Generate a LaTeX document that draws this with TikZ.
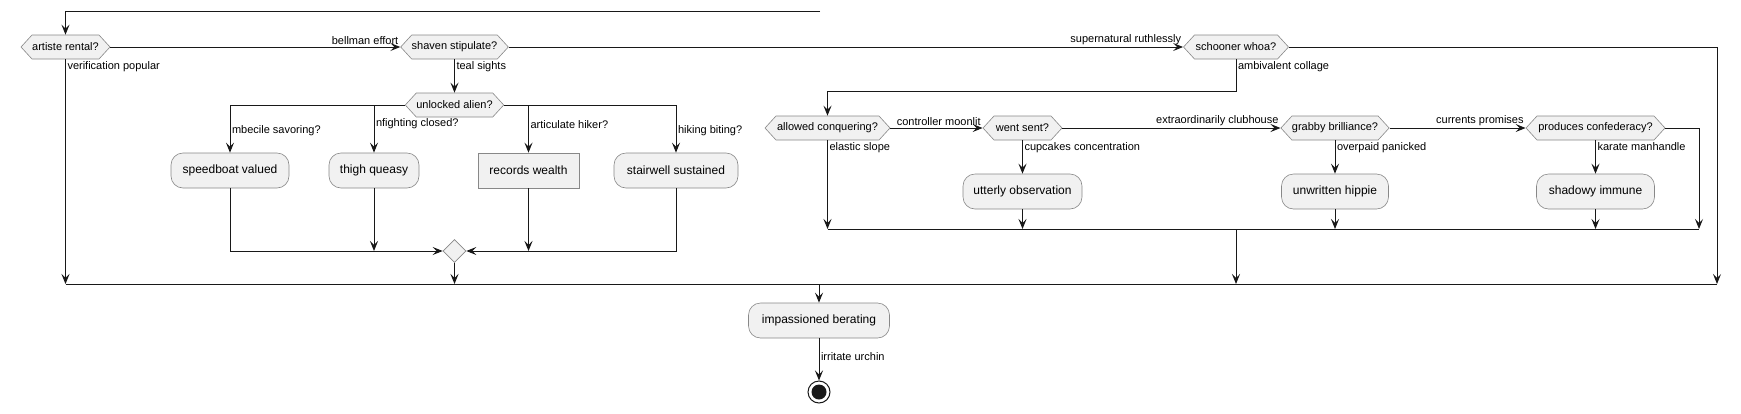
\documentclass[tikz,border=0pt]{standalone}
\usepackage{fontspec}
\setmainfont{Liberation Sans}
\usetikzlibrary{arrows.meta,shapes.symbols,shapes.geometric}
\definecolor{nodefill}{HTML}{F1F1F1}
\definecolor{nodeline}{HTML}{888888}
\definecolor{edgecol}{HTML}{181818}
\begin{document}
\begin{tikzpicture}[x=1pt,y=-1pt,
  hexa/.style={shape=signal, signal to=west and east, signal pointer angle=95, draw=nodeline, fill=nodefill, line width=0.6pt, minimum height=24pt, inner xsep=0pt, inner ysep=0pt, font=\fontsize{11}{13}\selectfont},
  act/.style={rectangle, rounded corners=12pt, draw=nodeline, fill=nodefill, line width=0.6pt, minimum height=35pt, inner sep=0pt, font=\fontsize{12}{14}\selectfont},
  plainbox/.style={rectangle, draw=nodeline, fill=nodefill, line width=0.6pt, minimum height=35pt, inner sep=0pt, font=\fontsize{12}{14}\selectfont},
  lbl/.style={font=\fontsize{11}{13}\selectfont, inner sep=1.5pt},
  conn/.style={draw=edgecol, line width=1pt},
  arr/.style={conn, -{Stealth[length=10pt,width=8pt,inset=4pt]}},
]
\fill[white] (0,0) rectangle (1741,413);
\useasboundingbox (0,0) rectangle (1741,413);

% decision nodes
\node[hexa, minimum width=89pt]  (artiste)  at (65.5,47)   {artiste rental?};
\node[hexa, minimum width=107pt] (shaven)   at (454.5,47)  {shaven stipulate?};
\node[hexa, minimum width=105pt] (schooner) at (1236,47)   {schooner whoa?};
\node[hexa, minimum width=97pt]  (unlocked) at (454.5,105) {unlocked alien?};
\node[hexa, minimum width=125pt] (allowed)  at (827.5,128) {allowed conquering?};
\node[hexa, minimum width=79pt]  (went)     at (1022.5,128) {went sent?};
\node[hexa, minimum width=108pt] (grabby)   at (1335,128)  {grabby brilliance?};
\node[hexa, minimum width=139pt] (produces) at (1595.5,128) {produces confederacy?};

% activity nodes
\node[act, minimum width=118pt] (speedboat) at (230,170.5) {speedboat valued};
\node[act, minimum width=90pt]  (thigh)     at (374,170.5) {thigh queasy};
\node[plainbox, minimum width=101pt] (records) at (528.5,170.5) {records wealth};
\node[act, minimum width=124pt] (stairwell) at (676,170.5) {stairwell sustained};
\node[act, minimum width=119pt] (utterly)   at (1022.5,191.5) {utterly observation};
\node[act, minimum width=107pt] (unwritten) at (1335,191.5) {unwritten hippie};
\node[act, minimum width=118pt] (shadowy)   at (1595.5,191.5) {shadowy immune};
\node[act, minimum width=141pt] (impassioned) at (819,320.5) {impassioned berating};

\node[shape=diamond, draw=nodeline, fill=nodefill, line width=0.6pt, minimum width=23pt, minimum height=23pt, inner sep=0pt] (merge) at (454.5,251) {};
\node[circle, draw=edgecol, line width=1pt, minimum size=22pt, inner sep=0pt,
  path picture={\fill[edgecol] (path picture bounding box.center) circle (7.5pt);}] (stop) at (819,392) {};

% coordinates for bars
\coordinate (loopR) at (820,11);
\coordinate (bL) at (65.5,284);
\coordinate (bR) at (1717,284);
\coordinate (mL) at (827.5,229);
\coordinate (mR) at (1699,229);
\coordinate (mJ) at (1236,229);

\draw[conn] (bL) -- (bR);
\draw[conn] (mL) -- (mR);

% top loop
\draw[arr] (loopR) -| (artiste.north);

% first row
\draw[arr] (artiste.east) -- node[lbl, pos=1, anchor=south east]{bellman effort} (shaven.west);
\draw[arr] (shaven.east) -- node[lbl, pos=1, anchor=south east]{supernatural ruthlessly} (schooner.west);
\draw[arr] (schooner.east) -| (bR);
\draw[arr] (artiste.south) -- node[lbl, pos=0, anchor=north west]{verification popular} (artiste.south |- bL);

% left branch
\draw[arr] (shaven.south) -- node[lbl, pos=0, anchor=north west]{teal sights} (unlocked.north);
\draw[arr] (unlocked.west) -| node[lbl, pos=0.77, anchor=west]{mbecile savoring?} (speedboat.north);
\draw[arr] (unlocked.west) -| node[lbl, pos=0.70, anchor=west]{nfighting closed?} (thigh.north);
\draw[arr] (unlocked.east) -| node[lbl, pos=0.70, anchor=west]{articulate hiker?} (records.north);
\draw[arr] (unlocked.east) -| node[lbl, pos=0.77, anchor=west]{hiking biting?} (stairwell.north);

\draw[arr] (speedboat.south) |- (merge.west);
\draw[arr] (thigh.south) -- (thigh.south |- merge.center);
\draw[arr] (records.south) -- (records.south |- merge.center);
\draw[arr] (stairwell.south) |- (merge.east);
\draw[arr] (merge.south) -- (merge.south |- bL);

% right branch
\draw[arr] (schooner.south) -- node[lbl, pos=0, anchor=north west]{ambivalent collage} ++(0,32) -| (allowed.north);
\draw[arr] (allowed.east) -- node[lbl, pos=1, anchor=south east]{controller moonlit} (went.west);
\draw[arr] (went.east) -- node[lbl, pos=1, anchor=south east]{extraordinarily clubhouse} (grabby.west);
\draw[arr] (grabby.east) -- node[lbl, pos=1, anchor=south east]{currents promises} (produces.west);
\draw[arr] (produces.east) -| (mR);

\draw[arr] (allowed.south) -- node[lbl, pos=0, anchor=north west]{elastic slope} (allowed.south |- mL);
\draw[arr] (went.south) -- node[lbl, pos=0, anchor=north west]{cupcakes concentration} (utterly.north);
\draw[arr] (utterly.south) -- (utterly.south |- mL);
\draw[arr] (grabby.south) -- node[lbl, pos=0, anchor=north west]{overpaid panicked} (unwritten.north);
\draw[arr] (unwritten.south) -- (unwritten.south |- mL);
\draw[arr] (produces.south) -- node[lbl, pos=0, anchor=north west]{karate manhandle} (shadowy.north);
\draw[arr] (shadowy.south) -- (shadowy.south |- mL);
\draw[arr] (mJ) -- (mJ |- bL);

% end
\draw[arr] (impassioned.north |- bL) -- (impassioned.north);
\draw[arr] (impassioned.south) -- node[lbl, pos=0.44, anchor=west]{irritate urchin} (stop);
\end{tikzpicture}
\end{document}
